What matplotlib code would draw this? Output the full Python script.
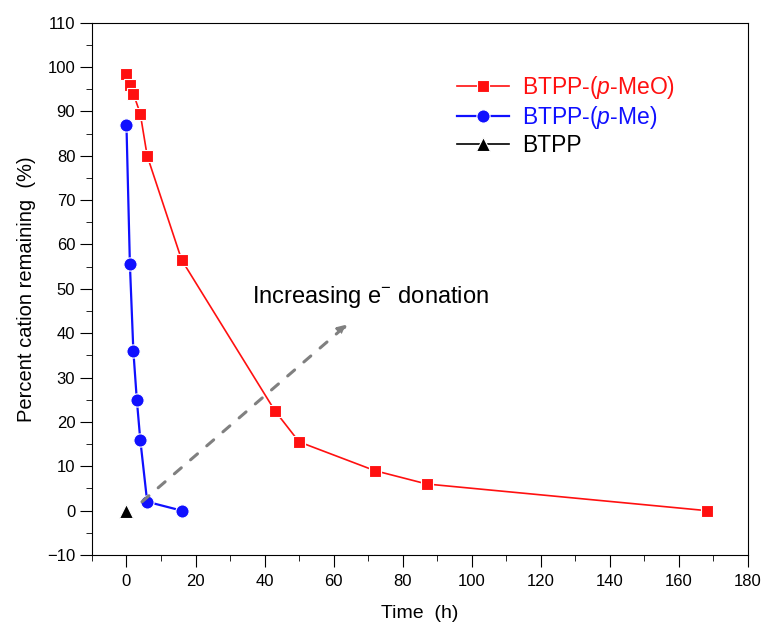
import matplotlib.pyplot as plt

plt.rcParams['font.family'] = ['Liberation Sans', 'DejaVu Sans']
plt.rcParams['mathtext.fontset'] = 'custom'
plt.rcParams['mathtext.it'] = 'Liberation Sans:italic'
plt.rcParams['mathtext.rm'] = 'Liberation Sans'

# 데이터
meo_t = [0, 1, 2, 4, 6, 16, 43, 50, 72, 87, 168]
meo_pct = [98.5, 96, 94, 89.5, 80, 56.5, 22.5, 15.5, 9, 6, 0]

me_t = [0, 1, 2, 3, 4, 6, 16]
me_pct = [87, 55.5, 36, 25, 16, 2, 0]

btpp_t = [0]
btpp_pct = [0]

xticks = list(range(0, 181, 20))
yticks = list(range(-10, 111, 10))

fig = plt.figure(figsize=(7.66, 6.24), dpi=100)
ax = fig.add_axes([0.120, 0.1106, 0.8565, 0.853])

ax.plot(meo_t, meo_pct, color="#ff1010", marker="s", markersize=9, lw=1.2,
        mec="white", mew=0.8, label="BTPP-($\\it{p}$-MeO)")
ax.plot(me_t, me_pct, color="#1010ff", marker="o", markersize=9.5, lw=1.6,
        mec="white", mew=0.8, label="BTPP-($\\it{p}$-Me)")
ax.plot(btpp_t, btpp_pct, color="black", marker="^", markersize=9.5, lw=1.2,
        mec="white", mew=0.8, label="BTPP")

# 전자 공여 증가 화살표
ax.annotate("", xy=(64, 42), xytext=(4.5, 2),
            arrowprops=dict(arrowstyle="-|>", color="#808080", lw=2.2,
                            linestyle=(0, (3, 4)), mutation_scale=13,
                            shrinkA=0, shrinkB=0))
ax.text(36.5, 48.2, "Increasing e$^{-}$ donation", fontsize=17, va="center", ha="left")

ax.set_xlim(-10, 180)
ax.set_ylim(-10, 110)
ax.set_xticks(xticks)
ax.set_yticks(yticks)
ax.set_xticks(list(range(-10, 181, 10)), minor=True)
ax.set_yticks(list(range(-10, 111, 5)), minor=True)
ax.tick_params(which="both", direction="out", top=False, right=False, labelsize=12)
ax.tick_params(which="major", length=8.5)
ax.tick_params(which="minor", length=4.5)
ax.tick_params(axis="x", pad=5)
ax.tick_params(axis="y", pad=3.5)
ax.set_xlabel("Time  (h)", fontsize=14, labelpad=12)
ax.set_ylabel("Percent cation remaining  (%)", fontsize=14.5, labelpad=8)

leg = ax.legend(loc="upper left", bbox_to_anchor=(0.556, 0.904), frameon=False,
                fontsize=16.5, handlelength=2.3, handletextpad=0.55,
                labelspacing=0.13, borderaxespad=0, borderpad=0)
for txt, line in zip(leg.get_texts(), leg.get_lines()):
    txt.set_color(line.get_color())

fig.savefig("out.png", dpi=100)
